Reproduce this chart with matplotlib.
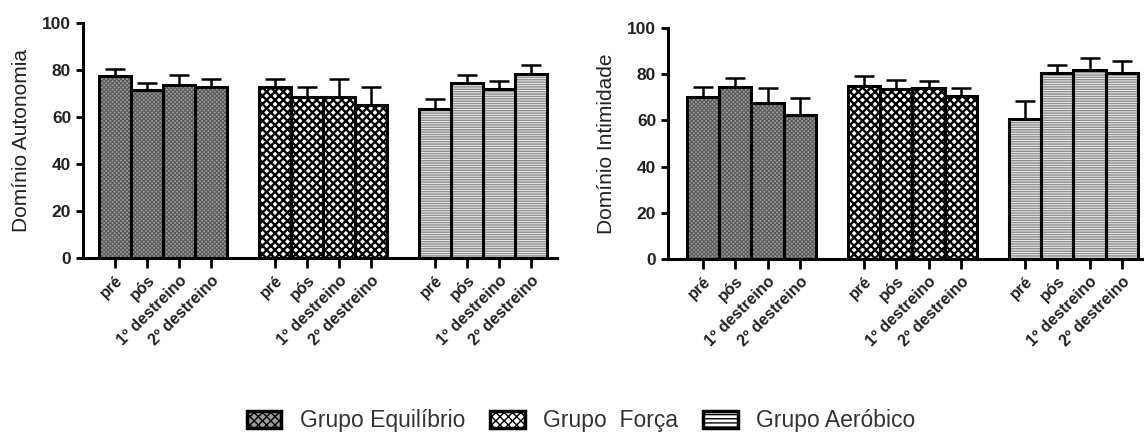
import numpy as np
import matplotlib
matplotlib.use("Agg")
import matplotlib.pyplot as plt
from matplotlib.patches import Patch

plt.rcParams['font.family'] = ['Liberation Sans', 'DejaVu Sans']

# momentos de avaliação
momentos = ["pré", "pós", "1º destreino", "2º destreino"]
grupos = ["Grupo Equilíbrio", "Grupo  Força", "Grupo Aeróbico"]

# Domínio Autonomia (média e erro)
auto_equilibrio = [77.4, 71.4, 73.8, 72.8]
auto_forca = [72.6, 68.3, 68.6, 65.1]
auto_aerobico = [63.6, 74.3, 71.9, 78.2]
auto_equilibrio_err = [3.2, 2.9, 3.9, 3.4]
auto_forca_err = [3.6, 4.3, 7.4, 7.5]
auto_aerobico_err = [3.9, 3.6, 3.6, 4.0]

# Domínio Intimidade (média e erro)
int_equilibrio = [70.0, 74.5, 67.4, 62.3]
int_forca = [75.0, 73.6, 74.0, 70.6]
int_aerobico = [60.5, 80.5, 81.8, 80.4]
int_equilibrio_err = [4.6, 3.7, 6.8, 7.5]
int_forca_err = [4.2, 4.0, 3.2, 3.6]
int_aerobico_err = [7.9, 3.3, 5.4, 5.5]

# estilo de cada grupo: (cor de fundo, hachura, cor da hachura, espessura da hachura)
estilos = [("#9c9c9c", "xxxxxxxx", "#5a5a5a", 0.8),
           ("white", "xxxx", "black", 1.7),
           ("#fafafa", "-------", "#909090", 1.1)]


def barras(ax, x, y, g):
    fc, hatch, hc, hlw = estilos[g]
    with plt.rc_context({'hatch.linewidth': hlw}):
        bars = ax.bar(x, y, width=1.0, color=fc, hatch=hatch, edgecolor=hc, linewidth=0, zorder=2)
    for b in bars:
        if hasattr(b, "set_hatch_linewidth"):
            b.set_hatch_linewidth(hlw)
    ax.bar(x, y, width=1.0, fill=False, edgecolor="black", linewidth=2.2, zorder=3)


def painel(ax, medias, erros, ylabel):
    for g in range(3):
        x = np.arange(4) + 5 * g
        barras(ax, x, medias[g], g)
        ax.errorbar(x, medias[g], yerr=[np.zeros(4), erros[g]], fmt="none", ecolor="black",
                    elinewidth=1.8, capsize=7, capthick=1.8, zorder=1)
    ticks = np.concatenate([np.arange(4) + 5 * g for g in range(3)])
    ax.set_xticks(ticks)
    ax.set_xticklabels(momentos * 3, rotation=45, ha="right", rotation_mode="anchor",
                       fontsize=11.5, fontweight="bold", color="#222222")
    ax.set_ylim(0, 100)
    ax.set_yticks(range(0, 101, 20))
    ax.tick_params(axis="y", labelsize=12.5, width=2, length=5, labelcolor="#222222")
    ax.tick_params(axis="x", width=2, length=7)
    for lab in ax.get_yticklabels():
        lab.set_fontweight("bold")
    ax.set_ylabel(ylabel, fontsize=15, labelpad=8, color="#222222")
    ax.spines["top"].set_visible(False)
    ax.spines["right"].set_visible(False)
    ax.spines["left"].set_linewidth(2.2)
    ax.spines["bottom"].set_linewidth(2.2)


fig = plt.figure(figsize=(11.44, 4.33), dpi=100)
ax1 = fig.add_axes([0.0726, 0.4042, 0.4143, 0.5427])
ax2 = fig.add_axes([0.5839, 0.4018, 0.4161, 0.5335])

painel(ax1, [auto_equilibrio, auto_forca, auto_aerobico],
       [auto_equilibrio_err, auto_forca_err, auto_aerobico_err], "Domínio Autonomia")
painel(ax2, [int_equilibrio, int_forca, int_aerobico],
       [int_equilibrio_err, int_forca_err, int_aerobico_err], "Domínio Intimidade")
ax1.set_xlim(-1.0, 13.8)
ax2.set_xlim(-1.09, 13.69)

with plt.rc_context({'hatch.linewidth': 1.0}):
    handles = [Patch(facecolor=estilos[g][0], hatch=estilos[g][1][:4], edgecolor="black", linewidth=2.5)
               for g in range(3)]
fig.legend(handles, grupos, loc="center", bbox_to_anchor=(0.508, 0.028), ncol=3, frameon=False,
           fontsize=16.5, handlelength=1.5, handleheight=0.75, columnspacing=1.1, handletextpad=0.8,
           labelcolor="#333333", borderpad=0.1)

fig.savefig("out.png", dpi=100)
